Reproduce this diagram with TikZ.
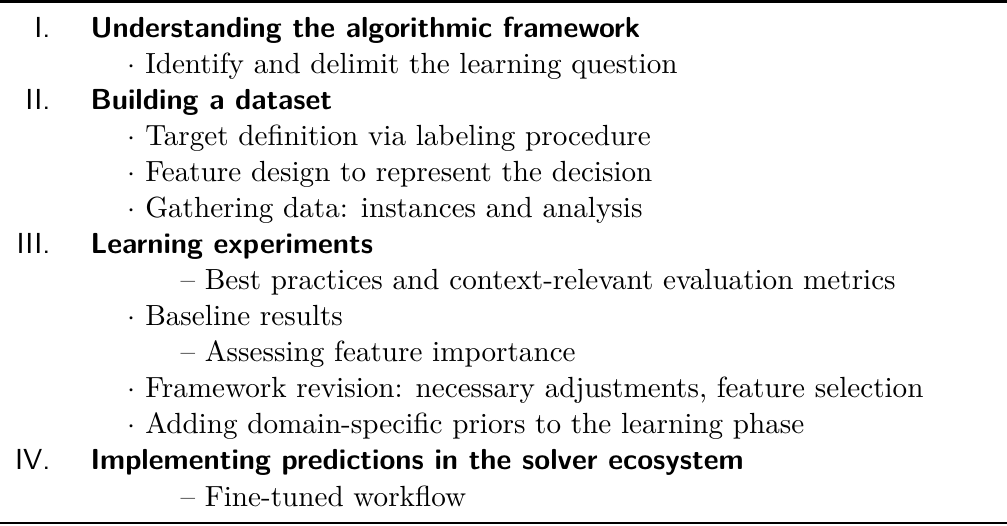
\documentclass[tikz,border=0pt]{standalone}
\begin{document}
\begin{tikzpicture}[x=0.3472pt,y=-0.3472pt,
  num/.style={anchor=base east, inner sep=0pt, font=\fontsize{10.05}{12}\selectfont\sffamily},
  head/.style={anchor=base west, inner sep=0pt, font=\fontsize{10.05}{12}\selectfont\sffamily\bfseries},
  bitem/.style={anchor=base west, inner sep=0pt, font=\fontsize{10.12}{12}\selectfont},
  ditem/.style={anchor=base west, inner sep=0pt, font=\fontsize{10.12}{12}\selectfont},
  toprl/.style={line width=1pt},
  botrl/.style={line width=0.7pt}]
\useasboundingbox (0,0) rectangle (1007,525);
\coordinate (tl) at (0,1.5);
\coordinate (tr) at (1007,1.5);
\coordinate (bl) at (0,522.5);
\coordinate (br) at (1007,522.5);
\draw[toprl] (tl) -- (tr);
\draw[botrl] (bl) -- (br);
% row baselines: 37 + 36.1 i
\node[num] (n1) at (51,37) {I.};
\node[head] (h1) at (90,37) {Understanding the algorithmic framework};
\node[bitem] (i1) at (127,73) {$\cdot$ Identify and delimit the learning question};
\node[num] (n2) at (51,109) {II.};
\node[head] (h2) at (90,109) {Building a dataset};
\node[bitem] (i2) at (127,145) {$\cdot$ Target definition via labeling procedure};
\node[bitem] (i3) at (127,181) {$\cdot$ Feature design to represent the decision};
\node[bitem] (i4) at (127,217) {$\cdot$ Gathering data: instances and analysis};
\node[num] (n3) at (51,253) {III.};
\node[head] (h3) at (90,253) {Learning experiments};
\node[ditem] (d1) at (180,289) {-- Best practices and context-relevant evaluation metrics};
\node[bitem] (i5) at (127,325) {$\cdot$ Baseline results};
\node[ditem] (d2) at (180,361) {-- Assessing feature importance};
\node[bitem] (i6) at (127,397) {$\cdot$ Framework revision: necessary adjustments, feature selection};
\node[bitem] (i7) at (127,433) {$\cdot$ Adding domain-specific priors to the learning phase};
\node[num] (n4) at (51,469) {IV.};
\node[head] (h4) at (90,469) {Implementing predictions in the solver ecosystem};
\node[ditem] (d3) at (180,506) {-- Fine-tuned workflow};
\end{tikzpicture}
\end{document}
